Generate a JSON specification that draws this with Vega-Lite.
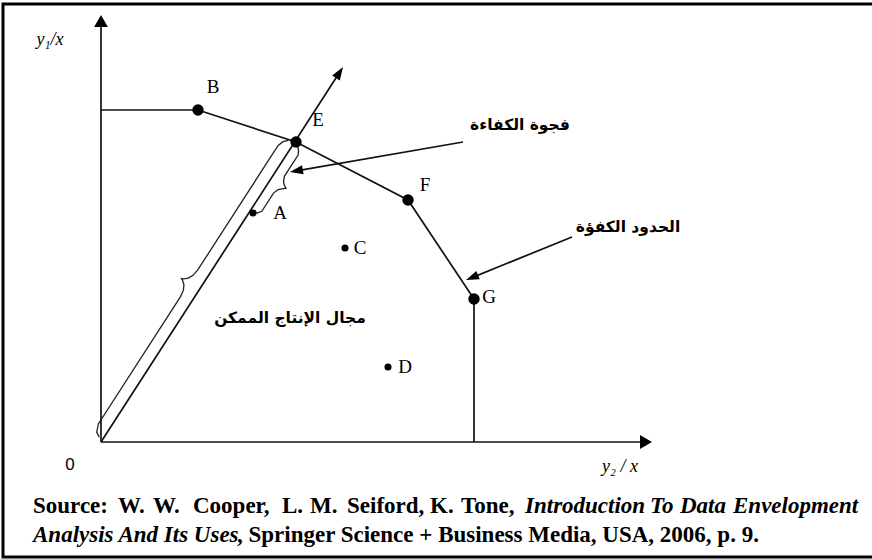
{
  "$schema": "https://vega.github.io/schema/vega-lite/v6.json",
  "width": 872,
  "height": 559,
  "padding": 0,
  "autosize": {"type": "none"},
  "background": "white",
  "config": {"view": {"stroke": null}},
  "datasets": {
    "lines": [
      {"g": "frame", "i": 0, "x": 771, "y": 438},
      {"g": "frame", "i": 1, "x": -98, "y": 438},
      {"g": "frame", "i": 2, "x": -98, "y": -115},
      {"g": "frame", "i": 3, "x": 771, "y": -115},
      {"g": "yaxis", "i": 0, "x": 0, "y": 0},
      {"g": "yaxis", "i": 1, "x": 0, "y": 417},
      {"g": "xaxis", "i": 0, "x": 0, "y": 0},
      {"g": "xaxis", "i": 1, "x": 541, "y": 0},
      {"g": "bh", "i": 0, "x": 0, "y": 332},
      {"g": "bh", "i": 1, "x": 97, "y": 332},
      {"g": "frontier", "i": 0, "x": 97, "y": 332},
      {"g": "frontier", "i": 1, "x": 195, "y": 300},
      {"g": "frontier", "i": 2, "x": 307, "y": 242},
      {"g": "frontier", "i": 3, "x": 373, "y": 143},
      {"g": "gv", "i": 0, "x": 373, "y": 143},
      {"g": "gv", "i": 1, "x": 373, "y": 0},
      {"g": "ray", "i": 0, "x": 0, "y": 0},
      {"g": "ray", "i": 1, "x": 238.5, "y": 369.5},
      {"g": "arr1", "i": 0, "x": 362, "y": 300},
      {"g": "arr1", "i": 1, "x": 195.4, "y": 271.1},
      {"g": "arr2", "i": 0, "x": 471, "y": 205},
      {"g": "arr2", "i": 1, "x": 371, "y": 164.4}
    ],
    "braces": [
      {"g": "braceL", "i": 0, "x": -1.73, "y": 4.69},
      {"g": "braceL", "i": 1, "x": -4.31, "y": 9.92},
      {"g": "braceL", "i": 2, "x": -2.49, "y": 18.27},
      {"g": "braceL", "i": 3, "x": 79.38, "y": 145.14},
      {"g": "braceL", "i": 4, "x": 82.34, "y": 151.56},
      {"g": "braceL", "i": 5, "x": 82.95, "y": 157.12},
      {"g": "braceL", "i": 6, "x": 81.64, "y": 161.54},
      {"g": "braceL", "i": 7, "x": 80.5, "y": 163.47},
      {"g": "braceL", "i": 8, "x": 82.72, "y": 163.22},
      {"g": "braceL", "i": 9, "x": 87.29, "y": 163.84},
      {"g": "braceL", "i": 10, "x": 92.1, "y": 166.69},
      {"g": "braceL", "i": 11, "x": 96.73, "y": 172.03},
      {"g": "braceL", "i": 12, "x": 176.98, "y": 296.38},
      {"g": "braceL", "i": 13, "x": 181.91, "y": 300.33},
      {"g": "braceL", "i": 14, "x": 187.44, "y": 301.52},
      {"g": "braceR", "i": 0, "x": 151.63, "y": 229.43},
      {"g": "braceR", "i": 1, "x": 156.07, "y": 228.94},
      {"g": "braceR", "i": 2, "x": 160.76, "y": 230.68},
      {"g": "braceR", "i": 3, "x": 172.69, "y": 249.16},
      {"g": "braceR", "i": 4, "x": 177.08, "y": 252.27},
      {"g": "braceR", "i": 5, "x": 181.22, "y": 253.17},
      {"g": "braceR", "i": 6, "x": 184.99, "y": 253.76},
      {"g": "braceR", "i": 7, "x": 183.39, "y": 256.53},
      {"g": "braceR", "i": 8, "x": 182.5, "y": 260.67},
      {"g": "braceR", "i": 9, "x": 183.53, "y": 265.96},
      {"g": "braceR", "i": 10, "x": 197.09, "y": 286.97},
      {"g": "braceR", "i": 11, "x": 197.57, "y": 291.41},
      {"g": "braceR", "i": 12, "x": 196.68, "y": 295.56}
    ],
    "axisHeads": [
      {"x": 0, "y": 421, "dir": 0},
      {"x": 545, "y": 0, "dir": 90}
    ],
    "arrowHeads": [
      {"x": 238.5, "y": 369.5, "dir": 32.8},
      {"x": 195.4, "y": 271.1, "dir": 260.2},
      {"x": 371, "y": 164.4, "dir": 247.9}
    ],
    "units": [
      {"dmu": "B", "x": 97, "y": 332, "kind": "efficient", "lx": 112, "ly": 355},
      {"dmu": "E", "x": 195, "y": 300, "kind": "efficient", "lx": 217, "ly": 322},
      {"dmu": "F", "x": 307, "y": 242, "kind": "efficient", "lx": 324, "ly": 257},
      {"dmu": "G", "x": 373, "y": 143, "kind": "efficient", "lx": 388, "ly": 145},
      {"dmu": "A", "x": 152, "y": 229, "kind": "inefficient", "lx": 179, "ly": 229},
      {"dmu": "C", "x": 244, "y": 194, "kind": "inefficient", "lx": 259, "ly": 194},
      {"dmu": "D", "x": 287, "y": 75, "kind": "inefficient", "lx": 304, "ly": 75}
    ],
    "arabic": [
      {"t": "فجوة الكفاءة", "x": 419, "y": 317},
      {"t": "الحدود الكفؤة", "x": 527, "y": 215},
      {"t": "مجال الإنتاج الممكن", "x": 189, "y": 124}
    ],
    "source": [
      {"w": "Source:", "x": -68, "y": -71, "part": "roman"},
      {"w": "W.", "x": 17, "y": -71, "part": "roman"},
      {"w": "W.", "x": 52, "y": -71, "part": "roman"},
      {"w": "Cooper,", "x": 92, "y": -71, "part": "roman"},
      {"w": "L.", "x": 181, "y": -71, "part": "roman"},
      {"w": "M.", "x": 209, "y": -71, "part": "roman"},
      {"w": "Seiford,", "x": 246, "y": -71, "part": "roman"},
      {"w": "K.", "x": 329, "y": -71, "part": "roman"},
      {"w": "Tone,", "x": 360, "y": -71, "part": "roman"},
      {"w": "Introduction", "x": 424, "y": -71, "part": "italic"},
      {"w": "To", "x": 549, "y": -71, "part": "italic"},
      {"w": "Data", "x": 579, "y": -71, "part": "italic"},
      {"w": "Envelopment", "x": 632, "y": -71, "part": "italic"},
      {"w": "Analysis And Its Uses", "x": -68, "y": -100, "part": "italic"},
      {"w": ", Springer Science + Business Media, USA, 2006, p. 9.", "x": 136, "y": -100, "part": "roman"}
    ]
  },
  "encoding": {
    "x": {"field": "x", "type": "quantitative", "scale": {"domain": [-101, 771], "nice": false, "zero": false}, "axis": null},
    "y": {"field": "y", "type": "quantitative", "scale": {"domain": [-117, 442], "nice": false, "zero": false}, "axis": null}
  },
  "layer": [
    {
      "data": {"name": "lines"},
      "transform": [{"filter": "datum.g === 'frame'"}],
      "mark": {"type": "line", "color": "#000", "strokeWidth": 3},
      "encoding": {"detail": {"field": "g"}, "order": {"field": "i", "type": "quantitative"}}
    },
    {
      "data": {"name": "lines"},
      "transform": [{"filter": "datum.g !== 'frame'"}],
      "mark": {"type": "line", "color": "#111", "strokeWidth": 1.7},
      "encoding": {"detail": {"field": "g"}, "order": {"field": "i", "type": "quantitative"}}
    },
    {
      "data": {"name": "braces"},
      "mark": {"type": "line", "color": "#222", "strokeWidth": 1.3},
      "encoding": {"detail": {"field": "g"}, "order": {"field": "i", "type": "quantitative"}}
    },
    {
      "data": {"name": "axisHeads"},
      "mark": {"type": "point", "shape": "M0,-1L1.15,1L-1.15,1Z", "size": 144, "filled": true, "color": "#000", "opacity": 1},
      "encoding": {"angle": {"field": "dir", "type": "quantitative", "scale": null}}
    },
    {
      "data": {"name": "arrowHeads"},
      "mark": {"type": "point", "shape": "M0,-1L0.7,1L-0.7,1Z", "size": 169, "filled": true, "color": "#000", "opacity": 1},
      "encoding": {"angle": {"field": "dir", "type": "quantitative", "scale": null}}
    },
    {
      "data": {"name": "units"},
      "transform": [{"filter": "datum.kind === 'efficient'"}],
      "mark": {"type": "circle", "size": 130, "color": "#000", "opacity": 1}
    },
    {
      "data": {"name": "units"},
      "transform": [{"filter": "datum.kind === 'inefficient'"}],
      "mark": {"type": "circle", "size": 50, "color": "#000", "opacity": 1}
    },
    {
      "data": {"name": "units"},
      "mark": {"type": "text", "font": "Liberation Serif", "fontSize": 19, "align": "center", "baseline": "middle", "color": "#000"},
      "encoding": {
        "x": {"field": "lx", "type": "quantitative"},
        "y": {"field": "ly", "type": "quantitative"},
        "text": {"field": "dmu"}
      }
    },
    {
      "data": {"values": [{"t": "0", "x": -31, "y": -23}]},
      "mark": {"type": "text", "font": "Liberation Sans", "fontSize": 17, "align": "center", "baseline": "middle", "color": "#000"},
      "encoding": {"text": {"field": "t"}}
    },
    {
      "data": {"values": [{"t": "y₁/x", "x": -51, "y": 402}, {"t": "y₂ / x", "x": 519, "y": -25}]},
      "mark": {"type": "text", "font": "Liberation Serif", "fontStyle": "italic", "fontSize": 18, "align": "center", "baseline": "middle", "color": "#000"},
      "encoding": {"text": {"field": "t"}}
    },
    {
      "data": {"name": "arabic"},
      "mark": {"type": "text", "font": "DejaVu Sans", "fontWeight": "bold", "fontSize": 15.5, "align": "center", "baseline": "middle", "color": "#000"},
      "encoding": {"text": {"field": "t"}}
    },
    {
      "data": {"name": "source"},
      "transform": [{"filter": "datum.part === 'roman'"}],
      "mark": {"type": "text", "font": "Liberation Serif", "fontWeight": "bold", "fontSize": 23, "align": "left", "baseline": "alphabetic", "color": "#000"},
      "encoding": {"text": {"field": "w"}}
    },
    {
      "data": {"name": "source"},
      "transform": [{"filter": "datum.part === 'italic'"}],
      "mark": {"type": "text", "font": "Liberation Serif", "fontWeight": "bold", "fontStyle": "italic", "fontSize": 23, "align": "left", "baseline": "alphabetic", "color": "#000"},
      "encoding": {"text": {"field": "w"}}
    }
  ]
}
